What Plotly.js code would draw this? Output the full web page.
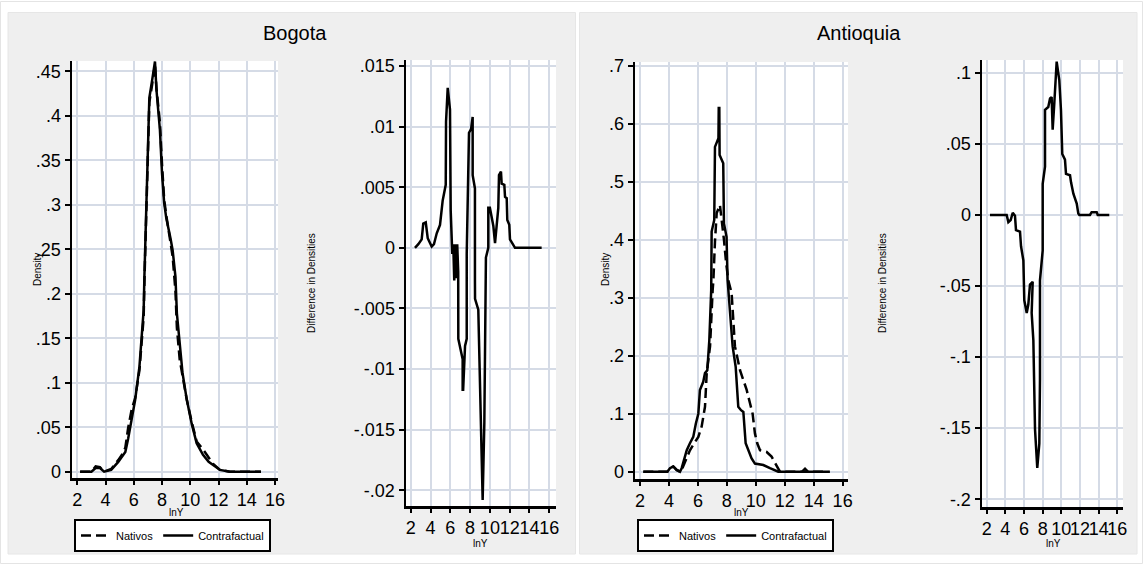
<!DOCTYPE html>
<html><head><meta charset="utf-8">
<script src="https://cdn.plot.ly/plotly-3.0.1.min.js"></script>
<style>html,body{margin:0;padding:0;background:#fff;}#chart{width:1143px;height:565px;}</style>
</head><body><div id="chart"></div>
<script>
// ---------- DATA ----------
const panelTitles = ['Bogota', 'Antioquia'];
const seriesNames = ['Nativos', 'Contrafactual'];
const xTickVals = [2, 4, 6, 8, 10, 12, 14, 16];
const xTickText = ['2', '4', '6', '8', '10', '12', '14', '16'];

const bogDensTicks = [0, 0.05, 0.1, 0.15, 0.2, 0.25, 0.3, 0.35, 0.4, 0.45];
const bogDensText = ['0', '.05', '.1', '.15', '.2', '.25', '.3', '.35', '.4', '.45'];
const bogDiffTicks = [-0.02, -0.015, -0.01, -0.005, 0, 0.005, 0.01, 0.015];
const bogDiffText = ['-.02', '-.015', '-.01', '-.005', '0', '.005', '.01', '.015'];
const antDensTicks = [0, 0.1, 0.2, 0.3, 0.4, 0.5, 0.6, 0.7];
const antDensText = ['0', '.1', '.2', '.3', '.4', '.5', '.6', '.7'];
const antDiffTicks = [-0.2, -0.15, -0.1, -0.05, 0, 0.05, 0.1];
const antDiffText = ['-.2', '-.15', '-.1', '-.05', '0', '.05', '.1'];

// Bogota densities
const bogX = [2.2, 3.0, 3.3, 3.6, 3.9, 4.4, 4.9, 5.2, 5.4, 5.6, 5.85, 6.1, 6.4, 6.55, 6.7, 6.75, 6.9, 7.05, 7.1, 7.3, 7.45, 7.5, 7.6, 7.7, 7.85, 8.0, 8.15, 8.3, 8.45, 8.6, 8.75, 8.95, 9.05, 9.25, 9.45, 9.75, 10.1, 10.45, 10.9, 11.3, 11.6, 12.1, 12.8, 15.0];
const bogContra = [0, 0, 0.004, 0.004, 0, 0.002, 0.011, 0.017, 0.022, 0.037, 0.058, 0.081, 0.118, 0.152, 0.182, 0.219, 0.305, 0.41, 0.42, 0.44, 0.455, 0.461, 0.43, 0.41, 0.384, 0.335, 0.302, 0.285, 0.275, 0.262, 0.249, 0.219, 0.178, 0.14, 0.111, 0.081, 0.054, 0.032, 0.019, 0.011, 0.0075, 0.002, 0, 0];
const bogNativos = [0, 0, 0.006, 0.005, 0, 0.003, 0.013, 0.02, 0.027, 0.049, 0.07, 0.083, 0.114, 0.146, 0.174, 0.212, 0.296, 0.405, 0.415, 0.435, 0.452, 0.458, 0.432, 0.414, 0.392, 0.345, 0.306, 0.288, 0.272, 0.258, 0.242, 0.203, 0.162, 0.126, 0.108, 0.081, 0.056, 0.034, 0.025, 0.016, 0.009, 0.002, 0, 0];

// Bogota difference in densities
const bogDiffX = [2.43, 2.77, 3.11, 3.27, 3.52, 3.72, 4.12, 4.35, 4.63, 4.96, 5.23, 5.54, 5.57, 5.74, 5.97, 6.04, 6.2, 6.3, 6.4, 6.5, 6.6, 6.7, 6.8, 6.81, 7.25, 7.25, 7.3, 7.49, 7.66, 7.66, 7.89, 8.1, 8.26, 8.26, 8.49, 8.49, 8.5, 8.83, 9.0, 9.1, 9.17, 9.27, 9.44, 9.57, 9.6, 9.84, 9.84, 10.0, 10.35, 10.52, 10.69, 10.85, 10.92, 11.12, 11.19, 11.46, 11.53, 11.7, 11.76, 11.96, 12.03, 12.37, 12.54, 15.23];
const bogDiff = [0, 0.0003, 0.0007, 0.002, 0.0021, 0.0008, 0.0001, 0.0003, 0.0012, 0.0019, 0.0039, 0.0052, 0.0104, 0.0132, 0.0114, 0.0031, -0.0005, 0.0003, -0.0027, 0.0003, -0.0025, 0.0003, -0.002, -0.0075, -0.0092, -0.0117, -0.0117, -0.0081, -0.0075, -0.0005, 0.0095, 0.0098, 0.0108, 0.006, 0.0049, -0.0027, -0.0042, -0.0051, -0.0117, -0.0167, -0.0189, -0.0208, -0.0144, -0.0025, -0.0008, 0, 0.0033, 0.0033, 0.0018, 0.0004, 0.0019, 0.0033, 0.006, 0.0063, 0.0053, 0.0052, 0.0042, 0.0041, 0.0023, 0.0019, 0.0007, 0.0003, 0, 0];

// Antioquia densities
const antContraX = [2.23, 3.89, 4.07, 4.3, 4.53, 4.76, 4.88, 5.11, 5.23, 5.45, 5.68, 5.86, 6.03, 6.14, 6.37, 6.49, 6.65, 6.79, 6.92, 6.95, 7.13, 7.18, 7.42, 7.44, 7.48, 7.5, 7.75, 7.8, 7.98, 8.05, 8.15, 8.25, 8.4, 8.61, 8.79, 8.98, 9.14, 9.3, 9.48, 9.71, 9.94, 10.52, 10.98, 11.32, 11.55, 15.12];
const antContra = [0, 0, 0.006, 0.009, 0.003, 0, 0.006, 0.026, 0.037, 0.049, 0.06, 0.083, 0.1, 0.141, 0.155, 0.17, 0.175, 0.227, 0.313, 0.414, 0.434, 0.56, 0.575, 0.627, 0.627, 0.546, 0.532, 0.428, 0.405, 0.331, 0.3, 0.273, 0.216, 0.181, 0.112, 0.106, 0.103, 0.049, 0.037, 0.023, 0.014, 0.0115, 0.006, 0.003, 0, 0];
const antNativosX = [2.23, 3.89, 4.07, 4.3, 4.53, 4.76, 4.88, 5.11, 5.45, 5.74, 6.03, 6.26, 6.49, 6.61, 6.84, 7.02, 7.07, 7.18, 7.3, 7.52, 7.71, 7.8, 7.95, 8.1, 8.33, 8.44, 8.56, 8.91, 9.14, 9.37, 9.6, 9.78, 9.94, 10.1, 10.29, 10.75, 11.09, 11.44, 11.67, 13.2, 13.4, 13.6, 15.0];
const antNativos = [0, 0, 0.006, 0.009, 0.003, 0, 0.003, 0.017, 0.037, 0.049, 0.06, 0.078, 0.112, 0.17, 0.216, 0.313, 0.33, 0.397, 0.446, 0.46, 0.422, 0.4, 0.36, 0.33, 0.308, 0.267, 0.216, 0.175, 0.158, 0.141, 0.118, 0.1, 0.066, 0.049, 0.037, 0.034, 0.026, 0.009, 0, 0, 0.005, 0, 0];

// Antioquia difference in densities
const antDiffX = [2.35, 4.14, 4.32, 4.57, 4.79, 5.03, 5.14, 5.57, 5.68, 5.93, 6.03, 6.29, 6.46, 6.64, 6.93, 6.82, 7.0, 7.18, 7.42, 7.64, 7.71, 7.71, 8.0, 8.0, 8.25, 8.25, 8.6, 8.79, 8.96, 9.07, 9.25, 9.5, 9.78, 9.96, 10.1, 10.39, 10.5, 10.93, 11.04, 11.29, 11.65, 11.82, 11.93, 13.07, 13.25, 13.79, 13.9, 15.14];
const antDiff = [0, 0, -0.005, -0.0035, 0.0016, -0.0005, -0.0106, -0.0117, -0.022, -0.032, -0.06, -0.069, -0.063, -0.049, -0.047, -0.069, -0.088, -0.151, -0.178, -0.161, -0.116, -0.046, -0.025, 0.022, 0.034, 0.074, 0.076, 0.082, 0.083, 0.06, 0.079, 0.108, 0.095, 0.074, 0.043, 0.039, 0.029, 0.028, 0.023, 0.015, 0.008, 0.001, 0, 0, 0.002, 0.002, 0, 0];

// ---------- LAYOUT HELPERS ----------
const W = 1143, H = 565;
const FONT = 'Liberation Sans, Arial, Helvetica, sans-serif';
const px = v => v / W;
const py = v => 1 - v / H;

function xAxis(l, r, range, anchor) {
  return {
    domain: [px(l), px(r)], range: range, anchor: anchor,
    tickmode: 'array', tickvals: xTickVals, ticktext: xTickText, tickangle: 0,
    showline: true, linecolor: '#000', linewidth: 2.5,
    ticks: 'outside', ticklen: 4, tickwidth: 2, tickcolor: '#000',
    showgrid: true, gridcolor: '#d5dbe6', gridwidth: 2, zeroline: false,
    tickfont: {family: FONT, size: 18, color: '#000'}, fixedrange: true
  };
}
function yAxis(t, b, range, anchor, vals, text) {
  return {
    domain: [py(b), py(t)], range: range, anchor: anchor,
    tickmode: 'array', tickvals: vals, ticktext: text, tickangle: 0,
    showline: true, linecolor: '#000', linewidth: 2.5,
    ticks: 'outside', ticklen: 5, tickwidth: 2, tickcolor: '#000',
    showgrid: true, gridcolor: '#d5dbe6', gridwidth: 2, zeroline: false,
    tickfont: {family: FONT, size: 18, color: '#000'}, fixedrange: true
  };
}

const solid = {color: '#000', width: 2.5};
const dashed = {color: '#000', width: 2.5, dash: '10px,5px'};

const traces = [
  {x: bogX, y: bogNativos, xaxis: 'x', yaxis: 'y', mode: 'lines', name: seriesNames[0], line: dashed, legend: 'legend'},
  {x: bogX, y: bogContra, xaxis: 'x', yaxis: 'y', mode: 'lines', name: seriesNames[1], line: solid, legend: 'legend'},
  {x: bogDiffX, y: bogDiff, xaxis: 'x2', yaxis: 'y2', mode: 'lines', name: 'diff', line: solid, showlegend: false},
  {x: antNativosX, y: antNativos, xaxis: 'x3', yaxis: 'y3', mode: 'lines', name: seriesNames[0], line: dashed, legend: 'legend2'},
  {x: antContraX, y: antContra, xaxis: 'x3', yaxis: 'y3', mode: 'lines', name: seriesNames[1], line: solid, legend: 'legend2'},
  {x: antDiffX, y: antDiff, xaxis: 'x4', yaxis: 'y4', mode: 'lines', name: 'diff', line: solid, showlegend: false}
];

function ann(text, x, y, size, angle) {
  return {text: text, xref: 'paper', yref: 'paper', x: px(x), y: py(y), xanchor: 'center', yanchor: 'middle',
          showarrow: false, textangle: angle || 0, font: {family: FONT, size: size, color: '#000'}};
}

const legendBase = {
  orientation: 'h', xanchor: 'left', yanchor: 'top', bgcolor: '#fff',
  bordercolor: '#000', borderwidth: 2, font: {family: FONT, size: 11, color: '#000'},
  itemclick: false, itemdoubleclick: false, traceorder: 'normal'
};

const whiteStrip = (x0, y0, x1, y1) => ({type: 'rect', xref: 'paper', yref: 'paper', x0: px(x0), x1: px(x1), y0: py(y1), y1: py(y0),
  fillcolor: '#ffffff', line: {width: 0}, layer: 'below'});
const border = (x0, y0, x1, y1, c) => ({type: 'rect', xref: 'paper', yref: 'paper', x0: px(x0), x1: px(x1), y0: py(y1), y1: py(y0),
  fillcolor: 'rgba(0,0,0,0)', line: {width: 1, color: c}, layer: 'below'});

const layout = {
  width: W, height: H, margin: {l: 0, r: 0, t: 0, b: 0},
  paper_bgcolor: '#efefef', plot_bgcolor: '#ffffff',
  showlegend: true,
  font: {family: FONT, color: '#000'},
  xaxis: xAxis(72, 278, [1.625, 16.21], 'y'),
  yaxis: yAxis(61, 478, [-0.0071, 0.4615], 'x', bogDensTicks, bogDensText),
  xaxis2: xAxis(406, 556, [1.525, 16.68], 'y2'),
  yaxis2: yAxis(60, 506, [-0.0213, 0.0155], 'x2', bogDiffTicks, bogDiffText),
  xaxis3: xAxis(635, 848, [1.655, 16.37], 'y3'),
  yaxis3: yAxis(62, 479, [-0.0126, 0.7064], 'x3', antDensTicks, antDensText),
  xaxis4: xAxis(982, 1123, [1.496, 16.61], 'y4'),
  yaxis4: yAxis(60, 507, [-0.2055, 0.1091], 'x4', antDiffTicks, antDiffText),
  legend: Object.assign({x: px(74), y: py(519)}, legendBase),
  legend2: Object.assign({x: px(637), y: py(519)}, legendBase),
  annotations: [
    ann(panelTitles[0], 295, 33, 20),
    ann(panelTitles[1], 859, 33, 20),
    ann('Density', 37, 270, 10, -90),
    ann('Difference in Densities', 311, 283, 10, -90),
    ann('Density', 605, 270, 10, -90),
    ann('Difference in Densities', 882, 283, 10, -90),
    ann('lnY', 176, 512, 10),
    ann('lnY', 480, 543, 10),
    ann('lnY', 741, 512, 10),
    ann('lnY', 1053, 543, 10)
  ],
  shapes: [
    whiteStrip(0, 0, 1143, 12.5),
    whiteStrip(0, 554, 1143, 565),
    whiteStrip(0, 0, 8, 565),
    whiteStrip(1137, 0, 1143, 565),
    whiteStrip(575.5, 0, 579.5, 565),
    border(0.5, 1.5, 1142.5, 563.5, '#e4e4e4'),
    border(8, 12.5, 575.5, 554, '#e6e6e6'),
    border(579.5, 12.5, 1137, 554, '#e6e6e6')
  ]
};

Plotly.newPlot('chart', traces, layout, {staticPlot: true, displayModeBar: false});
</script>
</body></html>
